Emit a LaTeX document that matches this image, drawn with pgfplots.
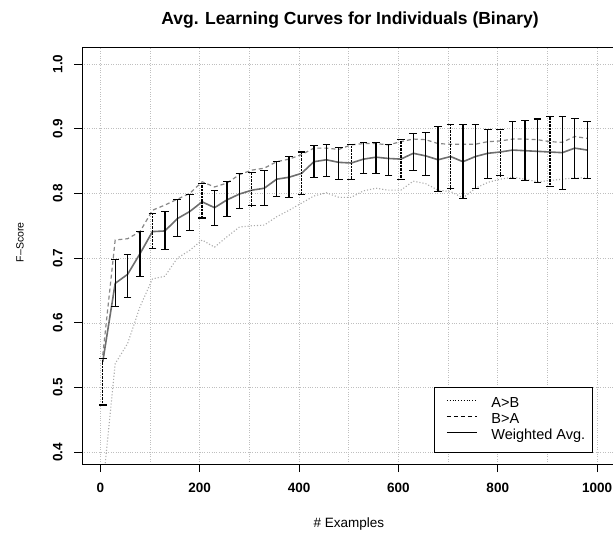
\documentclass[border=0pt]{standalone}
\usepackage{fontspec}
\setmainfont{Liberation Sans}
\usepackage{pgfplots}
\usepackage{pgfplotstable}
\pgfplotsset{compat=1.18}
\definecolor{wcol}{RGB}{110,110,110}
\definecolor{bacol}{RGB}{135,135,135}
\definecolor{abcol}{RGB}{170,170,170}
\pgfplotstableread{
x W lo hi AB BA d
5 0.540 0.473 0.545 0.345 0.550 1
30 0.661 0.625 0.698 0.537 0.728 0
55 0.675 0.639 0.706 0.568 0.730 0
80 0.707 0.671 0.741 0.625 0.741 0
105 0.741 0.715 0.769 0.668 0.774 1
130 0.742 0.713 0.772 0.672 0.782 0
155 0.761 0.734 0.790 0.700 0.791 0
180 0.772 0.743 0.798 0.712 0.800 0
205 0.787 0.762 0.815 0.728 0.818 1
230 0.778 0.750 0.805 0.717 0.810 0
255 0.790 0.764 0.818 0.733 0.816 0
280 0.799 0.777 0.831 0.748 0.829 0
305 0.805 0.781 0.832 0.750 0.836 1
330 0.808 0.781 0.836 0.751 0.839 0
355 0.822 0.795 0.849 0.764 0.849 0
380 0.825 0.794 0.857 0.774 0.853 0
405 0.831 0.798 0.864 0.785 0.860 1
430 0.849 0.825 0.874 0.796 0.870 0
455 0.852 0.826 0.875 0.801 0.870 0
480 0.848 0.822 0.871 0.794 0.868 0
505 0.847 0.822 0.875 0.794 0.875 1
530 0.853 0.831 0.878 0.804 0.877 0
555 0.856 0.831 0.878 0.808 0.877 0
580 0.854 0.828 0.876 0.805 0.875 0
605 0.853 0.822 0.884 0.805 0.880 1
630 0.862 0.835 0.892 0.819 0.884 0
655 0.858 0.827 0.894 0.815 0.883 0
680 0.852 0.803 0.903 0.805 0.877 0
705 0.857 0.807 0.906 0.803 0.876 1
730 0.849 0.792 0.907 0.793 0.876 0
755 0.857 0.807 0.906 0.808 0.876 0
780 0.862 0.823 0.899 0.817 0.880 0
805 0.864 0.827 0.899 0.822 0.881 1
830 0.867 0.823 0.911 0.825 0.884 0
855 0.866 0.820 0.913 0.822 0.884 0
880 0.865 0.817 0.915 0.818 0.883 0
905 0.864 0.810 0.919 0.820 0.880 1
930 0.863 0.806 0.919 0.822 0.879 0
955 0.870 0.823 0.916 0.824 0.888 0
980 0.867 0.823 0.911 0.824 0.885 0
}\data
\begin{document}
\begin{tikzpicture}[x=1pt,y=1pt]
\useasboundingbox (0,0) rectangle (613,533);
\node[anchor=base, font=\bfseries\fontsize{17.5}{20}\selectfont] at (350,508.5) {Avg. Learning Curves for Individuals (Binary)};
\begin{axis}[
  at={(82pt,69pt)}, anchor=south west,
  scale only axis, width=534pt, height=416.7pt,
  xmin=-36.8, xmax=1038, ymin=0.3819, ymax=1.0258,
  xtick={0,200,400,600,800,1000},
  minor xtick={100,300,500,700,900},
  ytick={0.4,0.5,0.6,0.7,0.8,0.9,1.0},
  xtick pos=bottom, ytick pos=left,
  tick align=outside, major tick length=8pt, minor tick length=0pt,
  tick style={black, line width=0.8pt},
  axis line style={black, line width=0.9pt},
  grid=major, xminorgrids=true,
  major grid style={gray!50, dotted, line width=0.7pt},
  minor grid style={gray!50, dotted, line width=0.7pt},
  /pgf/number format/assume math mode=true,
  /pgf/number format/1000 sep={},
  yticklabel style={/pgf/number format/fixed, /pgf/number format/fixed zerofill, /pgf/number format/precision=1, rotate=90, anchor=south, yshift=8pt},
  ticklabel style={font=\bfseries\fontsize{13.5}{15}\selectfont},
  xticklabel style={anchor=north, yshift=-8pt},
  xlabel={\# Examples},
  xlabel style={at={(axis description cs:0.5,-0.1512)}, anchor=base, font=\fontsize{13.5}{15}\selectfont},
  ylabel={F--Score},
  ylabel style={at={(axis description cs:-0.1161,0.532)}, anchor=center, font=\fontsize{10.5}{12}\selectfont},
  legend style={at={(0.6587,0.1855)}, anchor=north west, draw=black, line width=0.9pt,
    font=\fontsize{14.5}{16}\selectfont, cells={anchor=west},
    nodes={inner sep=0pt, text height=10pt, text depth=3pt},
    inner xsep=7pt, inner ysep=10pt, row sep=3pt,
    /tikz/every odd column/.append style={column sep=14pt}},
  legend image code/.code={\path[draw=none] (0pt,3.5pt) -- (5.7pt,3.5pt); \draw[#1] (5.7pt,3.5pt) -- (35.7pt,3.5pt);},
]
\addplot[abcol, dotted, line width=1.1pt, forget plot] table[x=x, y=AB] {\data};
\addplot[bacol, dash pattern=on 4pt off 3pt, line width=1.2pt, forget plot] table[x=x, y=BA] {\data};
\addplot[wcol, solid, line width=1.6pt, forget plot] table[x=x, y=W] {\data};
\addplot[draw=none, mark=none, forget plot,
  restrict expr to domain={\thisrow{d}}{0:0}, unbounded coords=discard,
  error bars/.cd, y dir=both, y explicit, error mark=|,
  error bar style={draw=black, solid, line width=1.3pt},
  error mark options={draw=black, solid, line width=1.1pt, mark size=3.8pt}]
  table[x=x, y=W, y error plus expr={\thisrow{hi}-\thisrow{W}}, y error minus expr={\thisrow{W}-\thisrow{lo}}] {\data};
\addplot[draw=none, mark=none, forget plot,
  restrict expr to domain={\thisrow{d}}{1:1}, unbounded coords=discard,
  error bars/.cd, y dir=both, y explicit, error mark=|,
  error bar style={draw=black, densely dotted, line width=1.3pt},
  error mark options={draw=black, solid, line width=1.1pt, mark size=3.8pt}]
  table[x=x, y=W, y error plus expr={\thisrow{hi}-\thisrow{W}}, y error minus expr={\thisrow{W}-\thisrow{lo}}] {\data};
\addlegendimage{black, dotted, line width=0.8pt}
\addlegendentry{A>B}
\addlegendimage{black, dash pattern=on 4pt off 3pt, line width=0.8pt}
\addlegendentry{B>A}
\addlegendimage{black, solid, line width=1pt}
\addlegendentry{Weighted Avg.}
\end{axis}
\end{tikzpicture}
\end{document}
